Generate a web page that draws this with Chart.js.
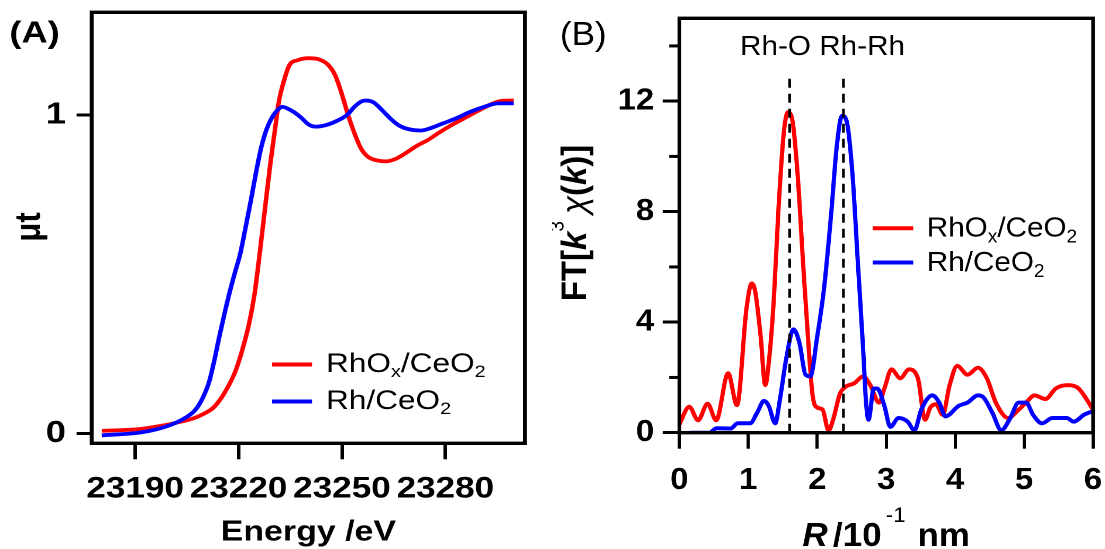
<!DOCTYPE html>
<html><head><meta charset="utf-8">
<script src="https://cdn.jsdelivr.net/npm/chart.js@4.4.1/dist/chart.umd.min.js"></script>
<style>
html,body{margin:0;padding:0;background:#fff;overflow:hidden;}
#stage{position:relative;width:1105px;height:549px;background:#fff;}
.panel{position:absolute;top:0;transform-origin:0 0;}
#pa{left:0;width:472px;height:549px;transform:scaleX(1.17);}
#pb{left:552px;width:522px;height:549px;transform:scaleX(1.06);}
canvas{display:block;}
</style></head><body>
<div id="stage">
<div class="panel" id="pa"><canvas id="ca" width="472" height="549"></canvas></div>
<div class="panel" id="pb"><canvas id="cb" width="522" height="549"></canvas></div>
</div>
<script>
// ---------- DATA ----------
const seriesLabels = ['RhO_x/CeO_2', 'Rh/CeO_2'];

// (A) XANES
const energyRhOx = [23180.3,23191.5,23196.6,23201.7,23206.8,23209.8,23212.9,23215.9,23219.0,23221.0,23223.1,23224.6,23226.1,23227.6,23229.2,23230.7,23231.7,23233.2,23234.7,23237.3,23240.3,23243.4,23245.9,23248.0,23250.0,23251.5,23253.6,23255.6,23257.6,23260.2,23262.7,23265.8,23268.8,23271.9,23274.9,23278.0,23281.0,23285.1,23289.2,23293.2,23296.3,23299.8];
const muRhOx = [0.008,0.014,0.022,0.033,0.047,0.061,0.083,0.127,0.193,0.259,0.347,0.435,0.562,0.700,0.845,0.965,1.042,1.108,1.155,1.172,1.178,1.174,1.158,1.125,1.064,1.009,0.943,0.893,0.868,0.857,0.854,0.863,0.882,0.904,0.921,0.943,0.963,0.987,1.011,1.033,1.044,1.045];
const energyRh = [23180.3,23191.5,23196.6,23201.7,23204.7,23207.3,23209.3,23211.4,23212.9,23214.4,23216.0,23217.5,23219.0,23220.5,23222.0,23223.6,23225.1,23226.6,23228.1,23229.7,23231.2,23232.7,23234.2,23236.3,23238.3,23240.3,23242.4,23245.4,23248.5,23251.5,23253.6,23255.6,23257.1,23259.2,23261.7,23264.2,23266.8,23269.8,23272.9,23275.9,23279.0,23283.1,23287.1,23291.2,23295.3,23299.8];
const muRh = [-0.006,0.003,0.014,0.033,0.05,0.072,0.105,0.16,0.226,0.303,0.38,0.447,0.507,0.565,0.645,0.733,0.821,0.899,0.954,0.992,1.014,1.025,1.020,1.007,0.990,0.970,0.963,0.968,0.981,1.000,1.025,1.042,1.045,1.039,1.014,0.987,0.965,0.954,0.951,0.959,0.972,0.989,1.009,1.025,1.036,1.036];
const energyTicks = [23190, 23220, 23250, 23280];
const muTicks = [0, 1];

// (B) Fourier transform
const rRhOx = [0,0.144,0.272,0.41,0.535,0.708,0.836,0.974,1.05,1.10,1.18,1.246,1.30,1.37,1.436,1.513,1.574,1.64,1.718,1.795,1.872,1.933,2.0,2.077,2.164,2.23,2.33,2.41,2.538,2.667,2.77,2.897,2.974,3.077,3.205,3.33,3.46,3.564,3.64,3.72,3.82,3.92,4.03,4.18,4.33,4.46,4.59,4.77,4.9,5.03,5.15,5.31,5.46,5.64,5.79,6.0];
const ftRhOx = [0.30,0.94,0.45,1.05,0.45,2.15,1.0,4.49,5.40,5.12,3.48,1.72,2.6,4.8,8.0,10.8,11.6,11.3,9.27,6.13,3.23,1.35,0.91,0.84,0.08,0.47,1.41,1.66,1.79,2.04,1.72,1.09,1.6,2.29,1.97,2.29,1.97,0.47,0.91,1.03,0.65,1.72,2.42,2.1,2.35,1.97,1.09,0.53,0.78,1.09,1.35,1.22,1.6,1.72,1.6,0.84];
const rRh = [0.15,0.436,0.54,0.744,0.846,1.026,1.128,1.228,1.297,1.39,1.46,1.554,1.656,1.744,1.83,1.9,2.0,2.1,2.205,2.28,2.36,2.426,2.51,2.59,2.667,2.708,2.744,2.82,2.87,2.974,3.06,3.18,3.31,3.41,3.51,3.67,3.77,3.86,4.05,4.18,4.33,4.41,4.54,4.67,4.8,4.92,5.03,5.13,5.26,5.41,5.62,5.72,5.87,6.0];
const ftRh = [0,0,0.16,0.15,0.34,0.34,0.72,1.15,0.97,0.34,1.22,2.73,3.74,3.23,2.1,2.04,3.48,5.25,8.0,10.28,11.47,11.28,9.4,6.13,2.98,1.09,0.47,1.6,1.6,0.97,0.21,0.53,0.4,0.09,0.84,1.35,1.09,0.59,0.97,1.09,1.35,1.28,0.72,0.09,0.53,1.09,1.09,0.65,0.34,0.53,0.53,0.4,0.65,0.78];
const rTicks = [0, 1, 2, 3, 4, 5, 6];
const ftTicks = [0, 4, 8, 12];
const ftMinorTicks = [2, 6, 10, 14];
const bondR = [1.60, 2.38];
const bondTop = 12.9;
const bondLabel = 'Rh-O Rh-Rh';

// ---------- HELPERS ----------
const FAM = '"Liberation Sans", Arial, Helvetica, sans-serif';
const RED = '#ff0000', BLUE = '#0000ff';
function pts(xs, ys){ return xs.map((x,i)=>({x:x, y:ys[i]})); }
function parseSub(label, size, subSize, subDy){
  const parts = []; let buf = '';
  for (let i=0;i<label.length;i++){
    if (label[i]==='_' && i+1<label.length){
      if (buf) parts.push({t:buf, f:`${size}px ${FAM}`});
      buf='';
      parts.push({t:label[i+1], f:`${subSize}px ${FAM}`, dy:subDy});
      i++;
    } else buf += label[i];
  }
  if (buf) parts.push({t:buf, f:`${size}px ${FAM}`});
  return parts;
}
function richWidth(ctx, parts){ let w=0; for(const p of parts){ ctx.font=p.f; w += ctx.measureText(p.t).width + (p.gap||0);} return w; }
function drawRich(ctx, parts, x, y){ for(const p of parts){ ctx.font=p.f; ctx.fillText(p.t, x, y+(p.dy||0)); x += ctx.measureText(p.t).width + (p.gap||0);} }
function zeroPad(s){ s.paddingTop=0; s.paddingBottom=0; s.paddingLeft=0; s.paddingRight=0; }

const framePlugin = {
  id:'frame',
  afterDatasetsDraw(chart){
    const {ctx, chartArea:a} = chart;
    ctx.save(); ctx.strokeStyle='#000'; ctx.lineWidth=3.4;
    ctx.strokeRect(a.left, a.top, a.right-a.left, a.bottom-a.top);
    ctx.restore();
  }
};

function axisCommon(tickLen, pad, size){
  return {
    grid:{drawOnChartArea:false, drawTicks:true, tickLength:tickLen, tickWidth:3, tickColor:'#000'},
    border:{display:false},
    ticks:{color:'#000', padding:pad, font:{family:FAM, size:size, weight:'bold'}, autoSkip:false, maxRotation:0, callback:v=>String(v)}
  };
}

// ---------- CHART A ----------
const textA = {
  id:'textA',
  afterDraw(chart){
    const ctx = chart.ctx; ctx.save(); ctx.fillStyle='#000'; ctx.textBaseline='alphabetic';
    ctx.font = `bold 31px ${FAM}`; ctx.textAlign='left'; ctx.fillText('(A)', 8, 42.5);
    ctx.font = `bold 29px ${FAM}`; ctx.textAlign='center';
    ctx.fillText('Energy /eV', (chart.chartArea.left+chart.chartArea.right)/2, 540.5);
    ctx.save(); ctx.translate(34, 227); ctx.rotate(-Math.PI/2);
    ctx.font = `bold 31px ${FAM}`; ctx.textAlign='center'; ctx.fillText('\u03bct', 0, 0); ctx.restore();
    // legend
    const ds = chart.data.datasets; const rows=[{y:372},{y:409}];
    ctx.textAlign='left';
    seriesLabels.forEach((lab,i)=>{
      ctx.strokeStyle = ds[i].borderColor; ctx.lineWidth=4;
      ctx.beginPath(); ctx.moveTo(232.5, rows[i].y-7.5); ctx.lineTo(266.7, rows[i].y-7.5); ctx.stroke();
      drawRich(ctx, parseSub(lab, 27, 17, 5), 278.6, rows[i].y);
    });
    ctx.restore();
  }
};

new Chart(document.getElementById('ca'), {
  type:'line',
  data:{datasets:[
    {label:seriesLabels[0], data:pts(energyRhOx, muRhOx), borderColor:RED, borderWidth:3.8, pointRadius:0, cubicInterpolationMode:'monotone', fill:false, order:2},
    {label:seriesLabels[1], data:pts(energyRh, muRh), borderColor:BLUE, borderWidth:3.8, pointRadius:0, cubicInterpolationMode:'monotone', fill:false, order:1}
  ]},
  options:{
    responsive:false, animation:false, devicePixelRatio:2,
    layout:{padding:{left:0, right:23.3, top:12.3, bottom:0}},
    plugins:{legend:{display:false}, tooltip:{enabled:false}},
    scales:{
      x:Object.assign({type:'linear', min:23177.4, max:23303.1,
        afterFit:s=>{s.height=105.7; zeroPad(s);},
        afterBuildTicks:s=>{s.ticks=energyTicks.map(v=>({value:v}));}
      }, axisCommon(16, 12, 30)),
      y:Object.assign({type:'linear', min:-0.031, max:1.322,
        afterFit:s=>{s.width=78.4; zeroPad(s);},
        afterBuildTicks:s=>{s.ticks=muTicks.map(v=>({value:v}));}
      }, axisCommon(13, 9, 31))
    }
  },
  plugins:[framePlugin, textA]
});

// ---------- CHART B ----------
const textB = {
  id:'textB',
  afterDraw(chart){
    const ctx = chart.ctx; const a = chart.chartArea; const ys = chart.scales.y;
    ctx.save(); ctx.fillStyle='#000'; ctx.strokeStyle='#000'; ctx.textBaseline='alphabetic';
    // minor ticks
    ctx.lineWidth=3;
    ftMinorTicks.forEach(v=>{ const y=ys.getPixelForValue(v); ctx.beginPath(); ctx.moveTo(a.left-9.5, y); ctx.lineTo(a.left, y); ctx.stroke(); });
    ctx.font = `33px ${FAM}`; ctx.textAlign='left'; ctx.fillText('(B)', 7.5, 45);
    ctx.font = `28px ${FAM}`; ctx.fillText(bondLabel, 177.4, 55);
    // x title
    const xt = [
      {t:'R', f:`italic bold 33px ${FAM}`, gap:5},
      {t:'/10', f:`bold 33px ${FAM}`, gap:4},
      {t:'-1', f:`21px ${FAM}`, dy:-24, gap:2},
      {t:' nm', f:`bold 33px ${FAM}`}
    ];
    drawRich(ctx, xt, (a.left+a.right)/2 - richWidth(ctx, xt)/2, 546);
    // y title
    const yt = [
      {t:'FT[', f:`bold 33px ${FAM}`},
      {t:'k', f:`italic bold 33px ${FAM}`},
      {t:'3', f:`19px ${FAM}`, dy:-21, gap:7},
      {t:'\u03c7', f:`italic 33px ${FAM}`},
      {t:'(', f:`bold 33px ${FAM}`},
      {t:'k', f:`italic bold 33px ${FAM}`},
      {t:')]', f:`bold 33px ${FAM}`}
    ];
    ctx.save(); ctx.translate(32, 223); ctx.rotate(-Math.PI/2);
    drawRich(ctx, yt, -richWidth(ctx, yt)/2, 0); ctx.restore();
    // legend
    const ds = chart.data.datasets; const rows=[{y:236.7},{y:271}];
    seriesLabels.forEach((lab,i)=>{
      ctx.strokeStyle = ds[i].borderColor; ctx.lineWidth=4;
      ctx.beginPath(); ctx.moveTo(302.5, rows[i].y-8.5); ctx.lineTo(340.8, rows[i].y-8.5); ctx.stroke();
      drawRich(ctx, parseSub(lab, 28, 18, 6), 353.5, rows[i].y);
    });
    ctx.restore();
  }
};

const bondSets = bondR.map(r=>({label:'bond', data:[{x:r,y:0},{x:r,y:bondTop}], borderColor:'#000', borderWidth:2.6, borderDash:[9,6], pointRadius:0, fill:false, order:0}));

new Chart(document.getElementById('cb'), {
  type:'line',
  data:{datasets:[
    {label:seriesLabels[0], data:pts(rRhOx, ftRhOx), borderColor:RED, borderWidth:4, pointRadius:0, cubicInterpolationMode:'monotone', fill:false, order:2},
    {label:seriesLabels[1], data:pts(rRh, ftRh), borderColor:BLUE, borderWidth:4, pointRadius:0, cubicInterpolationMode:'monotone', fill:false, order:1}
  ].concat(bondSets)},
  options:{
    responsive:false, animation:false, devicePixelRatio:2,
    layout:{padding:{left:0, right:11.6, top:18.3, bottom:0}},
    plugins:{legend:{display:false}, tooltip:{enabled:false}},
    scales:{
      x:Object.assign({type:'linear', min:0, max:6,
        afterFit:s=>{s.height=549-432.7; zeroPad(s);},
        afterBuildTicks:s=>{s.ticks=rTicks.map(v=>({value:v}));}
      }, axisCommon(16, 13, 31)),
      y:Object.assign({type:'linear', min:0, max:15,
        afterFit:s=>{s.width=120.1; zeroPad(s);},
        afterBuildTicks:s=>{s.ticks=ftTicks.map(v=>({value:v}));}
      }, axisCommon(15.7, 8, 31))
    }
  },
  plugins:[framePlugin, textB]
});
</script>
</body></html>
